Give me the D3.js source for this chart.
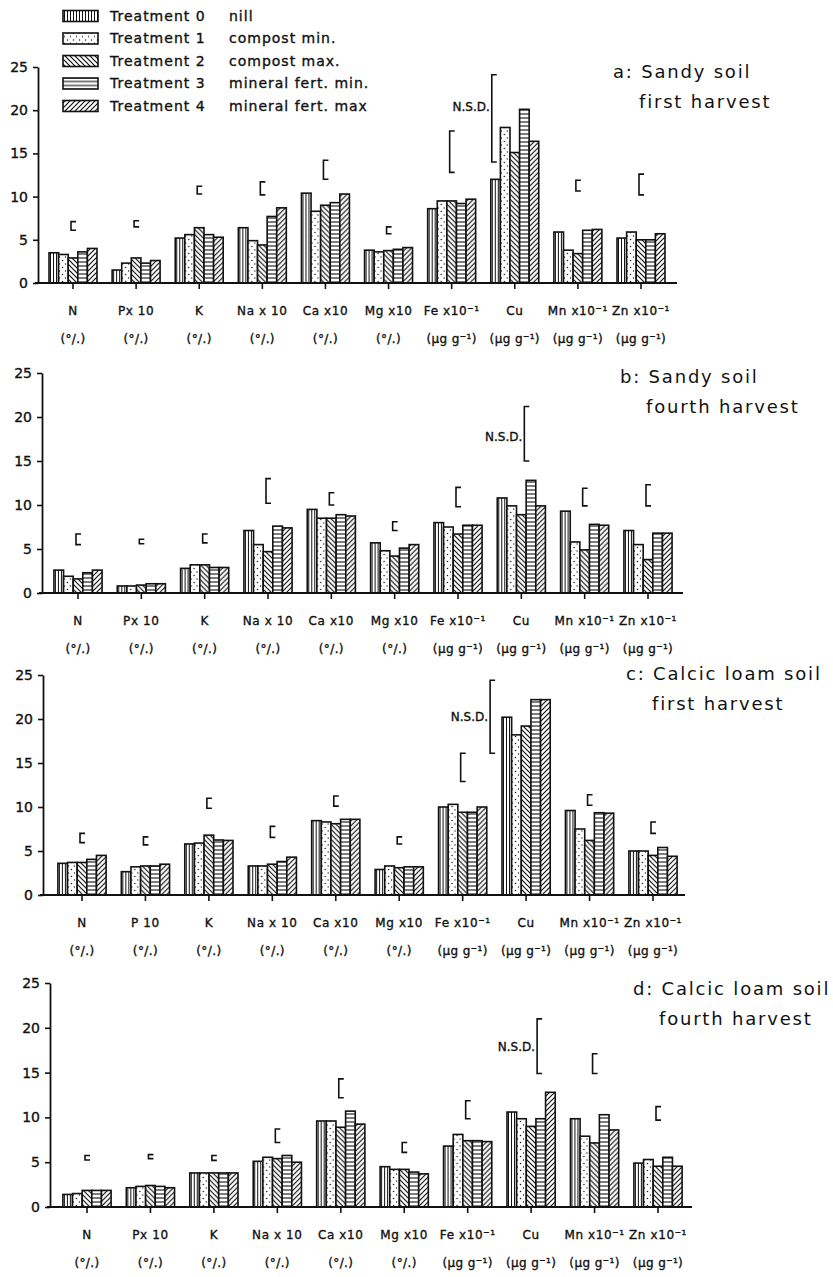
<!DOCTYPE html>
<html>
<head>
<meta charset="utf-8">
<script src="https://cdn.jsdelivr.net/npm/d3@7"></script>
<style>
  body { margin: 0; background: #fff; }
  svg text { font-family: "DejaVu Sans", sans-serif; fill: #111; }
  svg text.heavy { stroke: #111; stroke-width: 0.35px; }
</style>
</head>
<body>
<svg id="chart" width="833" height="1277"></svg>
<script>
/*global d3*/
"use strict";

// treatments (legend)
var treatments = ["Treatment 0", "Treatment 1", "Treatment 2", "Treatment 3", "Treatment 4"];
var treatmentNotes = ["nill", "compost min.", "compost max.", "mineral fert. min.", "mineral fert. max"];

// nutrients on the x axis
var nutrients = ["N", "P", "K", "Na", "Ca", "Mg", "Fe", "Cu", "Mn", "Zn"];
var nutrientLabels = ["N", "Px 10", "K", "Na x 10", "Ca x10", "Mg x10",
  "Fe x10⁻¹", "Cu", "Mn x10⁻¹", "Zn x10⁻¹"];
var nutrientLabelsC = ["N", "P  10", "K", "Na x 10", "Ca x10", "Mg x10",
  "Fe x10⁻¹", "Cu", "Mn x10⁻¹", "Zn x10⁻¹"];
var nutrientUnits = ["(°/.)", "(°/.)", "(°/.)", "(°/.)", "(°/.)", "(°/.)",
  "(µg g⁻¹)", "(µg g⁻¹)", "(µg g⁻¹)", "(µg g⁻¹)"];

var yTicks = [0, 5, 10, 15, 20, 25];

// one row per nutrient, one value per treatment 0..4
var sandyFirst = [
  [3.5, 3.3, 2.9, 3.6, 4.0],
  [1.5, 2.3, 2.9, 2.3, 2.6],
  [5.2, 5.6, 6.4, 5.6, 5.3],
  [6.4, 4.9, 4.4, 7.7, 8.7],
  [10.4, 8.3, 9.0, 9.3, 10.3],
  [3.8, 3.6, 3.75, 3.9, 4.1],
  [8.6, 9.5, 9.5, 9.2, 9.7],
  [12.0, 18.0, 15.1, 20.1, 16.4],
  [5.9, 3.8, 3.4, 6.1, 6.2],
  [5.2, 5.9, 5.0, 5.0, 5.7]
];
var sandyFourth = [
  [2.6, 1.9, 1.6, 2.3, 2.6],
  [0.8, 0.8, 0.9, 1.05, 1.05],
  [2.8, 3.2, 3.2, 2.9, 2.9],
  [7.1, 5.5, 4.7, 7.6, 7.4],
  [9.5, 8.5, 8.5, 8.9, 8.75],
  [5.7, 4.8, 4.2, 5.1, 5.5],
  [8.0, 7.5, 6.7, 7.7, 7.7],
  [10.8, 9.9, 8.9, 12.8, 9.9],
  [9.3, 5.8, 4.9, 7.8, 7.7],
  [7.1, 5.5, 3.8, 6.8, 6.8]
];
var calcicFirst = [
  [3.6, 3.7, 3.7, 4.05, 4.5],
  [2.65, 3.2, 3.3, 3.3, 3.5],
  [5.8, 5.9, 6.8, 6.25, 6.2],
  [3.3, 3.3, 3.5, 3.8, 4.3],
  [8.45, 8.3, 8.1, 8.6, 8.6],
  [2.9, 3.3, 3.1, 3.2, 3.2],
  [10.0, 10.3, 9.4, 9.4, 10.0],
  [20.2, 18.2, 19.2, 22.2, 22.2],
  [9.6, 7.5, 6.2, 9.35, 9.3],
  [5.0, 5.0, 4.5, 5.4, 4.4]
];
var calcicFourth = [
  [1.4, 1.5, 1.85, 1.85, 1.85],
  [2.15, 2.3, 2.4, 2.3, 2.15],
  [3.8, 3.8, 3.8, 3.8, 3.8],
  [5.1, 5.55, 5.4, 5.75, 5.0],
  [9.6, 9.6, 8.9, 10.7, 9.25],
  [4.5, 4.2, 4.2, 3.9, 3.7],
  [6.8, 8.1, 7.4, 7.4, 7.3],
  [10.6, 9.85, 9.0, 9.85, 12.8],
  [9.85, 7.9, 7.15, 10.3, 8.6],
  [4.9, 5.3, 4.55, 5.55, 4.55]
];

// LSD brackets [low, high] per nutrient (Cu is the N.S.D. one)
var lsdSandyFirst = [[6.1, 7.1], [6.5, 7.2], [10.3, 11.2], [10.2, 11.7], [12.0, 14.2],
  [5.7, 6.5], [12.8, 17.6], [14.0, 24.1], [10.65, 11.9], [10.2, 12.6]];
var lsdSandyFourth = [[5.5, 6.7], [5.6, 6.1], [5.7, 6.7], [10.2, 13.0], [10.0, 11.4],
  [7.1, 8.1], [9.8, 12.0], [15.0, 21.2], [9.9, 11.9], [9.9, 12.3]];
var lsdCalcicFirst = [[5.95, 7.0], [5.7, 6.6], [9.85, 11.0], [6.55, 7.8], [10.1, 11.25],
  [5.8, 6.6], [12.9, 16.1], [16.1, 24.4], [10.2, 11.4], [7.0, 8.3]];
var lsdCalcicFourth = [[5.25, 5.75], [5.4, 5.85], [5.2, 5.75], [7.2, 8.7], [12.2, 14.3],
  [6.1, 7.2], [9.85, 11.85], [14.9, 21.0], [14.9, 17.1], [9.7, 11.2]];

var panels = [
  { title: ["a: Sandy soil", "first harvest"], values: sandyFirst, lsd: lsdSandyFirst,
    labels: nutrientLabels, top: 67, bottom: 283, axisX: 38, first: 73, last: 641, end: 677,
    titleX: 613, titleY: 78, nsdShift: -21, nsdAt: 0.37 },
  { title: ["b: Sandy soil", "fourth harvest"], values: sandyFourth, lsd: lsdSandyFourth,
    labels: nutrientLabels, top: 373, bottom: 593, axisX: 42, first: 78, last: 648, end: 683,
    titleX: 620, titleY: 383, nsdShift: 5, nsdAt: 0.55 },
  { title: ["c: Calcic loam soil", "first harvest"], values: calcicFirst, lsd: lsdCalcicFirst,
    labels: nutrientLabelsC, top: 675, bottom: 895, axisX: 43, first: 82, last: 653, end: 685,
    titleX: 626, titleY: 680, nsdShift: -34, nsdAt: 0.5 },
  { title: ["d: Calcic loam soil", "fourth harvest"], values: calcicFourth, lsd: lsdCalcicFourth,
    labels: nutrientLabels, top: 983, bottom: 1207, axisX: 50, first: 87, last: 658, end: 692,
    titleX: 633, titleY: 995, nsdShift: 8, nsdAt: 0.52 }
];

var ink = "#111";
var svg = d3.select("#chart");

function addPatterns(root) {
  var defs = root.append("defs");
  var mk = function (id, w, h) {
    var p = defs.append("pattern")
      .attr("id", id)
      .attr("patternUnits", "userSpaceOnUse")
      .attr("width", w)
      .attr("height", h);
    p.append("rect").attr("width", w).attr("height", h).attr("fill", "#fff");
    return p;
  };
  // 0: vertical stripes
  mk("pat0", 3, 6).append("line")
    .attr("x1", 1.5).attr("x2", 1.5).attr("y1", 0).attr("y2", 6)
    .attr("stroke", ink).attr("stroke-width", 1);
  // 1: stipple
  var p1 = mk("pat1", 6, 7);
  p1.append("circle").attr("cx", 1.5).attr("cy", 1.5).attr("r", 0.75).attr("fill", ink);
  p1.append("circle").attr("cx", 4.5).attr("cy", 5).attr("r", 0.65).attr("fill", ink);
  // 2: "\" hatch
  mk("pat2", 5, 5).append("path")
    .attr("d", "M0,0L5,5M-1,4L1,6M4,-1L6,1")
    .attr("stroke", ink).attr("stroke-width", 1.2);
  // 3: horizontal lines
  mk("pat3", 6, 4).append("line")
    .attr("x1", 0).attr("x2", 6).attr("y1", 2).attr("y2", 2)
    .attr("stroke", ink).attr("stroke-width", 1.1);
  // 4: "/" hatch
  mk("pat4", 5, 5).append("path")
    .attr("d", "M0,5L5,0M-1,1L1,-1M4,6L6,4")
    .attr("stroke", ink).attr("stroke-width", 1.2);
}

function drawLegend(root) {
  var row = d3.scaleLinear().domain([0, 4]).range([16, 106]),
    g = root.append("g").attr("class", "legend"),
    items = g.selectAll("g").data(treatments).join("g")
      .attr("transform", function (d, i) { return "translate(0," + row(i) + ")"; });

  items.append("rect")
    .attr("x", 63).attr("y", -5.5)
    .attr("width", 35).attr("height", 11)
    .attr("fill", function (d, i) { return "url(#pat" + i + ")"; })
    .attr("stroke", ink).attr("stroke-width", 1.6);
  items.append("text")
    .attr("class", "heavy")
    .attr("x", 110).attr("dy", "0.35em")
    .style("font-size", "14px").style("letter-spacing", "1px")
    .text(function (d) { return d; });
  items.append("text")
    .attr("class", "heavy")
    .attr("x", 229).attr("dy", "0.35em")
    .style("font-size", "14px").style("letter-spacing", "1px")
    .text(function (d, i) { return treatmentNotes[i]; });
}

function drawPanel(root, panel) {
  var step = (panel.last - panel.first) / (nutrients.length - 1),
    x = d3.scaleBand()
      .domain(nutrients)
      .range([panel.first - step / 2, panel.last + step / 2])
      .paddingInner(0.24)
      .paddingOuter(0.12),
    xt = d3.scaleBand().domain(d3.range(treatments.length)).range([0, x.bandwidth()]),
    y = d3.scaleLinear().domain([0, 25]).range([panel.bottom, panel.top]),
    g = root.append("g").attr("class", "panel"),
    yAxis, xAxis, groups, brackets, cuIdx;

  // bars
  groups = g.selectAll(".group").data(nutrients).join("g")
    .attr("class", "group")
    .attr("transform", function (d) { return "translate(" + x(d) + ",0)"; });
  groups.selectAll("rect")
    .data(function (d, i) {
      return panel.values[i].map(function (v, t) { return { v: v, t: t }; });
    })
    .join("rect")
    .attr("x", function (d) { return xt(d.t); })
    .attr("y", function (d) { return y(d.v); })
    .attr("width", xt.bandwidth())
    .attr("height", function (d) { return y(0) - y(d.v); })
    .attr("fill", function (d) { return "url(#pat" + d.t + ")"; })
    .attr("stroke", ink)
    .attr("stroke-width", 1.6);

  // y axis
  yAxis = g.append("g")
    .attr("transform", "translate(" + panel.axisX + ",0)")
    .call(d3.axisLeft(y).tickValues(yTicks).tickSize(5).tickSizeOuter(0).tickPadding(5));
  yAxis.select(".domain").attr("stroke", ink).attr("stroke-width", 1.8);
  yAxis.selectAll(".tick line").attr("stroke", ink).attr("stroke-width", 1.6);
  yAxis.selectAll(".tick text")
    .attr("class", "heavy")
    .style("font-family", "'DejaVu Sans', sans-serif")
    .style("font-size", "14px").attr("fill", ink);

  // baseline
  g.append("line")
    .attr("x1", panel.axisX - 3).attr("x2", panel.end)
    .attr("y1", y(0)).attr("y2", y(0))
    .attr("stroke", ink).attr("stroke-width", 1.8);

  // category ticks below baseline
  xAxis = g.append("g")
    .attr("transform", "translate(0," + y(0) + ")")
    .call(d3.axisBottom(x).tickSize(6).tickFormat(""));
  xAxis.select(".domain").remove();
  xAxis.selectAll(".tick line").attr("stroke", ink).attr("stroke-width", 1.6);

  // category labels, two rows
  g.selectAll(".cat").data(nutrients).join("text")
    .attr("class", "cat heavy")
    .attr("x", function (d) { return x(d) + x.bandwidth() / 2; })
    .attr("y", y(0) + 28).attr("dy", "0.35em")
    .attr("text-anchor", "middle")
    .style("font-size", "12px").style("letter-spacing", "0.6px")
    .text(function (d, i) { return panel.labels[i]; });
  g.selectAll(".unit").data(nutrients).join("text")
    .attr("class", "unit heavy")
    .attr("x", function (d) { return x(d) + x.bandwidth() / 2; })
    .attr("y", y(0) + 56).attr("dy", "0.35em")
    .attr("text-anchor", "middle")
    .style("font-size", "12px").style("letter-spacing", "0.4px")
    .text(function (d, i) { return nutrientUnits[i]; });

  // LSD brackets
  cuIdx = nutrients.indexOf("Cu");
  brackets = function (d, i) {
    var bx = x(nutrients[i]) + x.bandwidth() / 2 - 2 + (i === cuIdx ? panel.nsdShift : 0);
    return "M" + (bx + 5) + "," + y(d[1]) + "H" + bx + "V" + y(d[0]) + "H" + (bx + 5);
  };
  g.selectAll(".lsd").data(panel.lsd).join("path")
    .attr("class", "lsd")
    .attr("d", brackets)
    .attr("fill", "none")
    .attr("stroke", ink)
    .attr("stroke-width", 1.6);

  g.append("text")
    .attr("class", "heavy")
    .attr("x", x("Cu") + x.bandwidth() / 2 - 4 + panel.nsdShift)
    .attr("y", y(panel.lsd[cuIdx][1]) +
      (y(panel.lsd[cuIdx][0]) - y(panel.lsd[cuIdx][1])) * panel.nsdAt)
    .attr("dy", "0.35em")
    .attr("text-anchor", "end")
    .style("font-size", "12px")
    .text("N.S.D.");

  // panel title
  g.append("text")
    .attr("x", panel.titleX).attr("y", panel.titleY)
    .style("font-size", "18px").style("letter-spacing", "1.8px")
    .text(panel.title[0]);
  g.append("text")
    .attr("x", panel.titleX + 26).attr("y", panel.titleY + 30)
    .style("font-size", "18px").style("letter-spacing", "1.8px")
    .text(panel.title[1]);
}

addPatterns(svg);
drawLegend(svg);
panels.forEach(function (p) { drawPanel(svg, p); });
</script>
</body>
</html>
